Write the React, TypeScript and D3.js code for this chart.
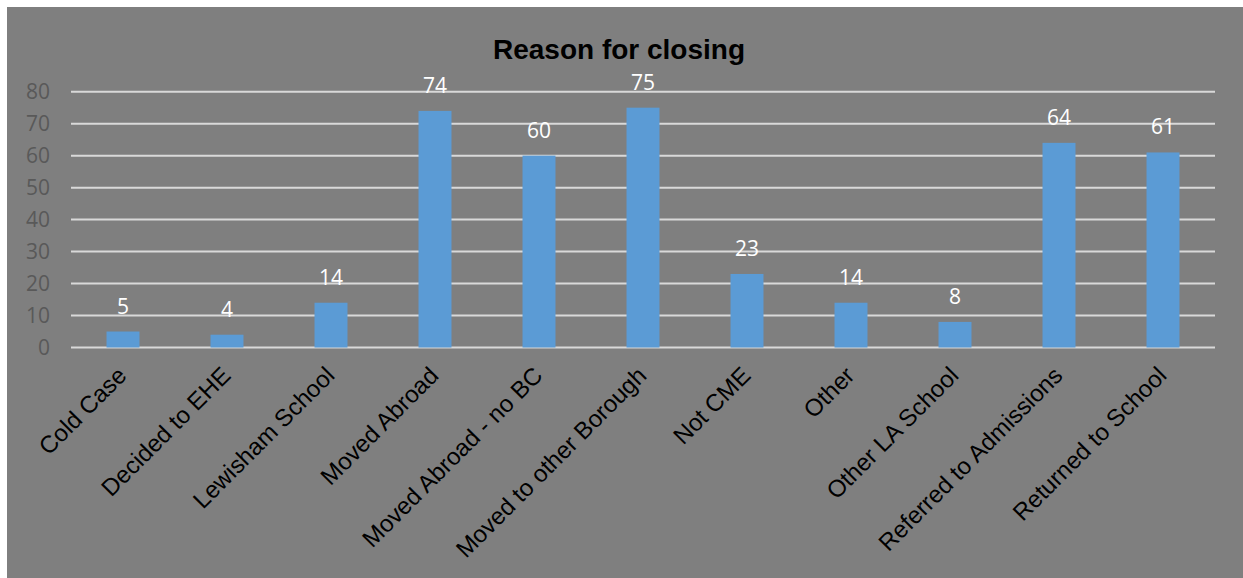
import React from "react";
import * as d3 from "d3";

const categories = [
  "Cold Case",
  "Decided to EHE",
  "Lewisham School",
  "Moved Abroad",
  "Moved Abroad - no BC",
  "Moved to other Borough",
  "Not CME",
  "Other",
  "Other LA School",
  "Referred to Admissions",
  "Returned to School",
];
const values = [5, 4, 14, 74, 60, 75, 23, 14, 8, 64, 61];
const yTicks = [0, 10, 20, 30, 40, 50, 60, 70, 80];
const title = "Reason for closing";

export default function App() {
  const W = 1243;
  const H = 578;
  const x = d3
    .scaleBand<string>()
    .domain(categories)
    .range([71, 1215])
    .paddingInner(0.683)
    .paddingOuter(0.683 / 2);
  const y = d3.scaleLinear().domain([0, 80]).range([347.5, 91.7]);

  return (
    <svg
      width={W}
      height={H}
      style={{ position: "absolute", left: 0, top: 0, display: "block" }}
    >
      <rect x={7} y={7} width={W} height={H} fill="#7f7f7f" />
      <text
        x={619}
        y={59}
        textAnchor="middle"
        fontFamily="'Liberation Sans', Arial, sans-serif"
        fontWeight="bold"
        fontSize={28}
        fill="#000"
      >
        {title}
      </text>
      {yTicks.map((t) => (
        <g key={t}>
          <line
            x1={71}
            x2={1215}
            y1={y(t)}
            y2={y(t)}
            stroke="#d9d9d9"
            strokeWidth={2}
          />
          <text
            x={50}
            y={y(t)}
            dy="0.36em"
            textAnchor="end"
            fontFamily="'Open Sans', sans-serif"
            fontSize={21}
            fill="#595959"
          >
            {t}
          </text>
        </g>
      ))}
      {categories.map((c, i) => {
        const bx = x(c)!;
        const bw = x.bandwidth();
        const cx = bx + bw / 2;
        return (
          <g key={c}>
            <rect
              x={bx}
              y={y(values[i])}
              width={bw}
              height={y(0) - y(values[i])}
              fill="#5b9bd5"
            />
            <text
              x={cx}
              y={y(values[i]) - 18}
              textAnchor="middle"
              fontFamily="'Open Sans', sans-serif"
              fontSize={21}
              fill="#ffffff"
            >
              {values[i]}
            </text>
            <text
              transform={`translate(${cx + 5},${377}) rotate(-45)`}
              textAnchor="end"
              fontFamily="'Liberation Sans', Arial, sans-serif"
              fontSize={24}
              fill="#000"
            >
              {c}
            </text>
          </g>
        );
      })}
    </svg>
  );
}
